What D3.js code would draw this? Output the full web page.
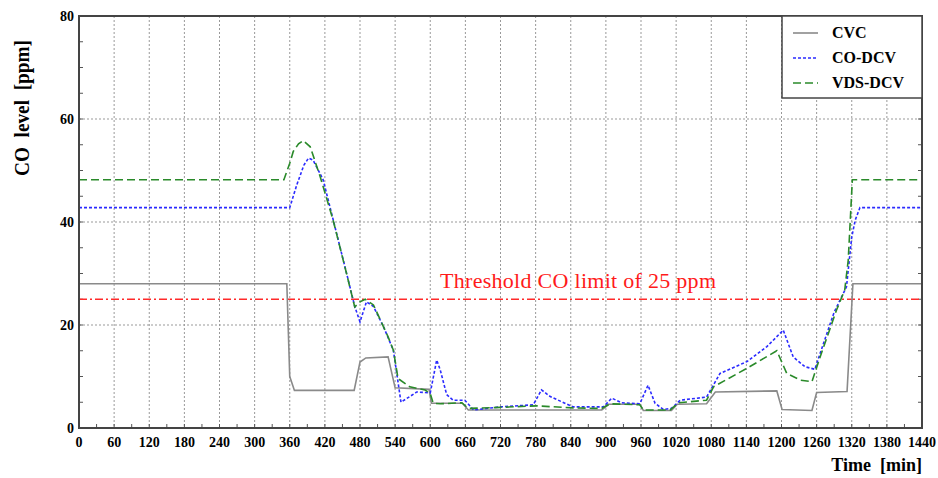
<!DOCTYPE html>
<html>
<head>
<meta charset="utf-8">
<script src="https://cdn.jsdelivr.net/npm/d3@7"></script>
<style>
  body { margin: 0; background: #fff; }
  svg { font-family: "Liberation Serif", "Times New Roman", serif; }
  text { white-space: pre; }
</style>
</head>
<body>
<svg id="chart" width="938" height="478"></svg>
<script>
// data
const xTicks = d3.range(0, 1441, 60);
const yTicks = [0, 20, 40, 60, 80];
const threshold = 25;

const cvc = [
  [0, 28], [355, 28], [360, 10], [368, 7.3], [470, 7.3], [480, 12.8], [490, 13.6],
  [528, 13.8], [540, 7.8], [598, 7.5], [602, 4.8], [655, 4.8], [665, 3.5], [893, 3.5],
  [905, 4.6], [958, 4.6], [964, 3.4], [1012, 3.4], [1022, 4.6], [1072, 4.7], [1087, 7.0],
  [1192, 7.2], [1201, 3.6], [1252, 3.4], [1260, 6.9], [1312, 7.1], [1322, 28], [1440, 28]
];

const coDcv = [
  [0, 42.8], [360, 42.8], [372, 47.2], [384, 51], [392, 52.4], [400, 52], [417, 48.2],
  [440, 37.8], [460, 28.7], [471, 23.6], [480, 20.6], [491, 24.5], [503, 23.6],
  [520, 19.7], [537, 15.1], [550, 5.0], [577, 7.0], [600, 6.8], [611, 13.2], [617, 11.3],
  [628, 6.5], [639, 5.4], [659, 5.4], [674, 3.5], [719, 4.1], [776, 4.5], [790, 7.4],
  [805, 6.1], [844, 4.1], [896, 4.1], [910, 5.8], [927, 4.9], [958, 4.7], [972, 8.3],
  [984, 4.8], [998, 3.6], [1012, 3.8], [1027, 5.4], [1072, 6.0], [1095, 10.6],
  [1141, 12.9], [1175, 15.8], [1203, 19.0], [1220, 13.8], [1240, 11.9], [1257, 11.4],
  [1266, 14.5], [1290, 22.5], [1311, 27.4], [1320, 37.1], [1326, 40.4], [1334, 42.8],
  [1440, 42.8]
];

const vdsDcv = [
  [0, 48.2], [350, 48.2], [360, 51.4], [366, 53.7], [375, 55.2], [383, 55.8], [395, 54.6],
  [412, 48.8], [434, 40.4], [457, 30], [471, 23.5], [480, 24.5], [489, 25], [503, 23.9],
  [528, 17.7], [537, 15.1], [545, 9.6], [565, 8.0], [591, 7.4], [600, 6.7], [605, 4.8],
  [617, 4.7], [654, 4.9], [665, 3.8], [719, 4.0], [782, 4.3], [844, 3.9], [893, 3.8],
  [907, 4.7], [958, 4.5], [964, 3.5], [1010, 3.5], [1024, 4.9], [1072, 5.4], [1084, 8.0],
  [1141, 11.6], [1192, 15.0], [1209, 10.6], [1232, 9.3], [1252, 9.0], [1266, 13.8],
  [1294, 22.9], [1308, 26.8], [1314, 32.6], [1321, 48.2], [1440, 48.2]
];

const seriesNames = ["CVC", "CO-DCV", "VDS-DCV"];

const pLeft = 79, pTop = 16, pRight = 922, pBottom = 428;
const svg = d3.select("#chart");

const x = d3.scaleLinear().domain([0, 1440]).range([pLeft, pRight]);
const y = d3.scaleLinear().domain([0, 80]).range([pBottom, pTop]);

// grid
svg.append("g")
  .selectAll("line")
  .data(xTicks.slice(1, -1))
  .join("line")
  .attr("x1", d => x(d)).attr("x2", d => x(d))
  .attr("y1", pTop).attr("y2", pBottom)
  .attr("stroke", "#999").attr("stroke-width", 1).attr("stroke-dasharray", "2,2");

svg.append("g")
  .selectAll("line")
  .data(yTicks.slice(1, -1))
  .join("line")
  .attr("x1", pLeft).attr("x2", pRight)
  .attr("y1", d => y(d)).attr("y2", d => y(d))
  .attr("stroke", "#999").attr("stroke-width", 1).attr("stroke-dasharray", "2,2");

// minor ticks inside the frame
svg.append("g")
  .selectAll("line")
  .data(d3.range(5, 80, 5))
  .join("line")
  .attr("x1", pLeft).attr("x2", pLeft + 4)
  .attr("y1", d => y(d)).attr("y2", d => y(d))
  .attr("stroke", "#555");
svg.append("g")
  .selectAll("line")
  .data(d3.range(5, 80, 5))
  .join("line")
  .attr("x1", pRight - 4).attr("x2", pRight)
  .attr("y1", d => y(d)).attr("y2", d => y(d))
  .attr("stroke", "#555");
svg.append("g")
  .selectAll("line")
  .data(d3.range(30, 1440, 30))
  .join("line")
  .attr("x1", d => x(d)).attr("x2", d => x(d))
  .attr("y1", pBottom - 4).attr("y2", pBottom)
  .attr("stroke", "#555");

// threshold
svg.append("line")
  .attr("x1", pLeft).attr("x2", pRight)
  .attr("y1", y(threshold)).attr("y2", y(threshold))
  .attr("stroke", "#ff2a2a").attr("stroke-width", 1.5)
  .attr("stroke-dasharray", "8,3,2,3");

svg.append("text")
  .attr("x", 578).attr("y", y(threshold) - 11)
  .attr("text-anchor", "middle")
  .attr("fill", "#ff1a1a")
  .style("font-size", "22px")
  .attr("textLength", 276)
  .text("Threshold CO limit of 25 ppm");

// series
const line = d3.line().x(d => x(d[0])).y(d => y(d[1]));
const styles = [
  { data: cvc, color: "#8a8a8a", dash: null, w: 1.6 },
  { data: coDcv, color: "#2b2bff", dash: "3,2", w: 1.6 },
  { data: vdsDcv, color: "#2a8a2a", dash: "8,4", w: 1.6 }
];

styles.forEach(s => {
  svg.append("path")
    .datum(s.data)
    .attr("d", line)
    .attr("fill", "none")
    .attr("stroke", s.color)
    .attr("stroke-width", s.w)
    .attr("stroke-dasharray", s.dash);
});

// frame
svg.append("rect")
  .attr("x", pLeft).attr("y", pTop)
  .attr("width", pRight - pLeft).attr("height", pBottom - pTop)
  .attr("fill", "none").attr("stroke", "#444").attr("stroke-width", 2);

// axes labels
svg.append("g")
  .selectAll("text")
  .data(xTicks)
  .join("text")
  .attr("x", d => x(d)).attr("y", pBottom + 19)
  .attr("text-anchor", "middle")
  .style("font-size", "14px").style("font-weight", "bold")
  .text(d => d);

svg.append("g")
  .selectAll("text")
  .data(yTicks)
  .join("text")
  .attr("x", pLeft - 5).attr("y", d => y(d) + 5)
  .attr("text-anchor", "end")
  .style("font-size", "14px").style("font-weight", "bold")
  .text(d => d);

svg.append("text")
  .attr("x", pRight).attr("y", 471)
  .attr("text-anchor", "end")
  .style("font-size", "18px").style("font-weight", "bold")
  .text("Time  [min]");

svg.append("text")
  .attr("transform", "translate(29,108) rotate(-90)")
  .attr("text-anchor", "middle")
  .style("font-size", "22px").style("font-weight", "bold")
  .attr("textLength", 136)
  .attr("lengthAdjust", "spacingAndGlyphs")
  .text("CO  level  [ppm]");

// legend
const lg = svg.append("g");
lg.append("rect")
  .attr("x", 782).attr("y", pTop)
  .attr("width", pRight - 782).attr("height", 82)
  .attr("fill", "#fff").attr("stroke", "#444").attr("stroke-width", 1.5);

seriesNames.forEach((name, i) => {
  const ly = 33 + i * 25;
  lg.append("line")
    .attr("x1", 793).attr("x2", 818)
    .attr("y1", ly).attr("y2", ly)
    .attr("stroke", styles[i].color).attr("stroke-width", 1.6)
    .attr("stroke-dasharray", styles[i].dash);
  lg.append("text")
    .attr("x", 832).attr("y", ly + 5)
    .style("font-size", "16px").style("font-weight", "bold")
    .text(name);
});
</script>
</body>
</html>
